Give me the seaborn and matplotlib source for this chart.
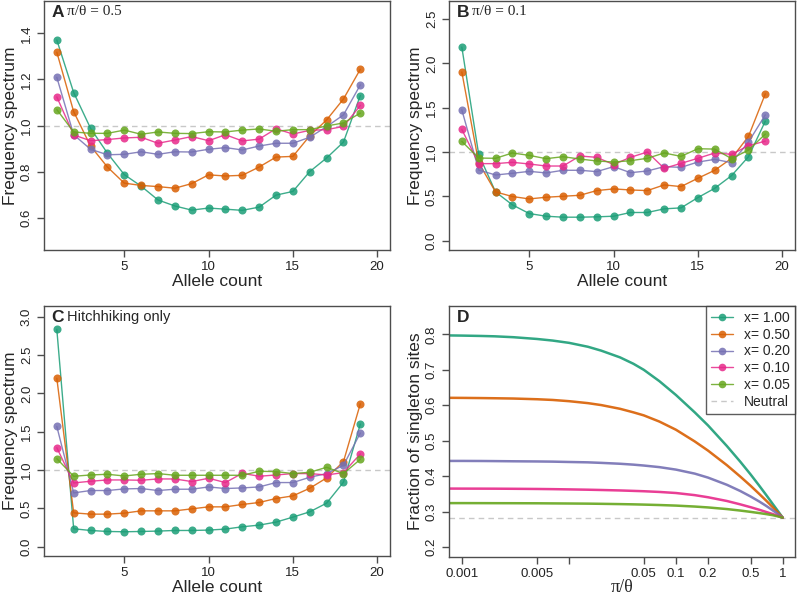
import numpy as np
import pandas as pd
import seaborn as sns
import matplotlib.pyplot as plt
from matplotlib.lines import Line2D

counts = list(range(1, 20))
series = ["x= 1.00", "x= 0.50", "x= 0.20", "x= 0.10", "x= 0.05"]
colors = ["#1B9E77", "#D95F02", "#7570B3", "#E7298A", "#66A61E"]

# panel A, pi/theta = 0.5
a_100 = [1.371, 1.143, 0.988, 0.88, 0.787, 0.737, 0.677, 0.651, 0.633, 0.642, 0.637, 0.632, 0.646, 0.698, 0.714, 0.80, 0.859, 0.928, 1.13]
a_050 = [1.318, 1.06, 0.911, 0.82, 0.75, 0.74, 0.735, 0.728, 0.748, 0.786, 0.781, 0.784, 0.82, 0.863, 0.866, 0.955, 1.024, 1.115, 1.244]
a_020 = [1.209, 0.96, 0.897, 0.873, 0.875, 0.886, 0.875, 0.886, 0.885, 0.897, 0.904, 0.894, 0.911, 0.923, 0.923, 0.949, 0.995, 1.046, 1.176]
a_010 = [1.124, 0.959, 0.934, 0.939, 0.946, 0.949, 0.923, 0.937, 0.952, 0.934, 0.96, 0.933, 0.941, 0.986, 0.963, 0.979, 0.982, 0.996, 1.087]
a_005 = [1.069, 0.972, 0.966, 0.966, 0.98, 0.962, 0.972, 0.966, 0.965, 0.973, 0.972, 0.98, 0.985, 0.975, 0.982, 0.982, 0.998, 1.011, 1.054]

# panel B, pi/theta = 0.1
b_100 = [2.185, 0.975, 0.551, 0.405, 0.307, 0.277, 0.266, 0.266, 0.27, 0.277, 0.319, 0.319, 0.36, 0.371, 0.487, 0.592, 0.735, 0.948, 1.349]
b_050 = [1.904, 0.88, 0.551, 0.499, 0.472, 0.491, 0.502, 0.513, 0.566, 0.585, 0.573, 0.566, 0.63, 0.611, 0.705, 0.795, 0.93, 1.177, 1.657]
b_020 = [1.477, 0.798, 0.742, 0.761, 0.783, 0.765, 0.795, 0.795, 0.78, 0.836, 0.768, 0.787, 0.836, 0.828, 0.888, 0.918, 0.881, 1.113, 1.42]
b_010 = [1.256, 0.87, 0.87, 0.885, 0.866, 0.843, 0.843, 0.956, 0.941, 0.86, 0.941, 1.001, 0.817, 0.873, 0.93, 0.99, 0.975, 1.072, 1.124]
b_005 = [1.121, 0.933, 0.93, 0.99, 0.963, 0.926, 0.948, 0.922, 0.9, 0.888, 0.903, 0.93, 0.99, 0.952, 1.038, 1.034, 0.926, 1.023, 1.203]

# panel C, hitchhiking only
c_100 = [2.835, 0.234, 0.212, 0.199, 0.195, 0.199, 0.204, 0.212, 0.212, 0.217, 0.23, 0.26, 0.282, 0.321, 0.386, 0.455, 0.568, 0.841, 1.6]
c_050 = [2.198, 0.442, 0.425, 0.425, 0.438, 0.468, 0.468, 0.468, 0.494, 0.52, 0.52, 0.551, 0.577, 0.629, 0.663, 0.763, 0.897, 1.11, 1.864]
c_020 = [1.569, 0.702, 0.733, 0.733, 0.754, 0.759, 0.733, 0.75, 0.75, 0.78, 0.759, 0.767, 0.78, 0.837, 0.837, 0.906, 0.954, 1.062, 1.483]
c_010 = [1.292, 0.832, 0.854, 0.871, 0.871, 0.867, 0.884, 0.884, 0.85, 0.893, 0.837, 0.958, 0.919, 0.936, 0.954, 0.954, 0.936, 0.967, 1.21]
c_005 = [1.149, 0.919, 0.936, 0.945, 0.923, 0.945, 0.954, 0.932, 0.932, 0.932, 0.932, 0.932, 0.984, 0.98, 0.954, 0.971, 1.036, 0.954, 1.14]

# panel D, singleton fraction vs pi/theta
ratio = [0.00075, 0.001, 0.0015, 0.002, 0.003, 0.005, 0.007, 0.01, 0.015, 0.02, 0.03, 0.04, 0.05,
         0.07, 0.1, 0.15, 0.2, 0.3, 0.4, 0.5, 0.6, 0.7, 0.8, 0.9, 1.0]
d_100 = [0.797, 0.7965, 0.7955, 0.7945, 0.792, 0.787, 0.7825, 0.776, 0.765, 0.754, 0.735, 0.717, 0.700,
         0.668, 0.629, 0.580, 0.543, 0.485, 0.441, 0.405, 0.374, 0.347, 0.323, 0.302, 0.283]
d_050 = [0.621, 0.6208, 0.6203, 0.6198, 0.619, 0.617, 0.615, 0.6115, 0.606, 0.6005, 0.590, 0.580, 0.5715,
         0.554, 0.531, 0.498, 0.472, 0.431, 0.399, 0.373, 0.3505, 0.331, 0.3135, 0.2975, 0.283]
d_020 = [0.443, 0.443, 0.4428, 0.4425, 0.442, 0.4415, 0.441, 0.440, 0.439, 0.4375, 0.435, 0.4325, 0.430,
         0.4255, 0.4185, 0.4072, 0.3959, 0.3757, 0.3582, 0.3427, 0.3289, 0.3162, 0.3043, 0.2933, 0.283]
d_010 = [0.365, 0.3649, 0.3648, 0.3647, 0.3644, 0.3639, 0.3634, 0.3627, 0.3618, 0.361, 0.3597, 0.3585, 0.3575,
         0.3555, 0.3525, 0.3465, 0.3405, 0.330, 0.3205, 0.3125, 0.3055, 0.299, 0.2935, 0.288, 0.283]
d_005 = [0.324, 0.324, 0.3239, 0.3238, 0.3237, 0.3235, 0.3232, 0.3229, 0.3225, 0.322, 0.3212, 0.3205, 0.3198,
         0.3186, 0.317, 0.3143, 0.3118, 0.3072, 0.303, 0.2993, 0.296, 0.293, 0.2901, 0.2865, 0.283]
neutral_single = 0.283

sns.set_style("white")
plt.rcParams["font.family"] = ["Liberation Sans", "DejaVu Sans"]
axcol = "#4d4d4d"
serif = ["Liberation Serif", "DejaVu Serif"]

W, H = 797, 599
fig = plt.figure(figsize=(W / 100, H / 100), dpi=100)


def px_axes(left, right, top, bottom):
    return fig.add_axes([left / W, 1 - bottom / H, (right - left) / W, (bottom - top) / H])


def long_df(xs, cols):
    parts = []
    for name, vals in zip(series, cols):
        parts.append(pd.DataFrame({"x": xs, "y": vals, "s": name}))
    return pd.concat(parts, ignore_index=True)


def style(ax):
    for sp in ax.spines.values():
        sp.set_color(axcol)
        sp.set_linewidth(1.0)
    ax.tick_params(axis="both", direction="out", length=5, width=1, color=axcol,
                   labelsize=9.5, labelcolor="#222222", pad=3, bottom=True, left=True)
    ax.tick_params(axis="y", labelrotation=90)
    for t in ax.get_yticklabels():
        t.set_va("center")


def sfs_panel(ax, cols, ylim, yticks):
    df = long_df(counts, cols)
    ax.axhline(1.0, color="#c8c8c8", ls=(0, (4, 3)), lw=1, zorder=0)
    sns.lineplot(data=df, x="x", y="y", hue="s", hue_order=series, palette=colors,
                 marker="o", markersize=5.8, markeredgewidth=0, lw=1, alpha=0.85,
                 estimator=None, sort=False, legend=False, ax=ax)
    ax.set_xlim(0.24, 20.76)
    ax.set_ylim(*ylim)
    ax.set_xticks([5, 10, 15, 20])
    ax.set_yticks(yticks)
    ax.yaxis.set_major_formatter(plt.FormatStrFormatter("%.1f"))
    ax.set_xlabel("Allele count", fontsize=12.5, labelpad=1)
    ax.set_ylabel("Frequency spectrum", fontsize=12.5, labelpad=2)
    style(ax)


def tag(ax, letter, text, fam=None, size=10.5):
    ax.text(0.022, 0.985, letter, transform=ax.transAxes, fontsize=12.5, fontweight="bold", va="top")
    ax.text(0.066, 0.982, text, transform=ax.transAxes, fontsize=size, va="top",
            family=fam if fam else plt.rcParams["font.family"])


axA = px_axes(44, 390, 1, 250)
sfs_panel(axA, [a_100, a_050, a_020, a_010, a_005], (0.46, 1.54), [0.6, 0.8, 1.0, 1.2, 1.4])
tag(axA, "A", "π/θ = 0.5", serif, 11)

axB = px_axes(449, 795, 1, 250)
sfs_panel(axB, [b_100, b_050, b_020, b_010, b_005], (-0.104, 2.704), [0.0, 0.5, 1.0, 1.5, 2.0, 2.5])
tag(axB, "B", "π/θ = 0.1", serif, 11)

axC = px_axes(44, 390, 306, 556)
sfs_panel(axC, [c_100, c_050, c_020, c_010, c_005], (-0.121, 3.14), [0.0, 0.5, 1.0, 1.5, 2.0, 2.5, 3.0])
tag(axC, "C", "Hitchhiking only")

# panel D
axD = px_axes(449, 795, 306, 557)
dfD = long_df(ratio, [d_100, d_050, d_020, d_010, d_005])
axD.axhline(neutral_single, color="#c8c8c8", ls=(0, (4, 3)), lw=1, zorder=0)
sns.lineplot(data=dfD, x="x", y="y", hue="s", hue_order=series, palette=colors,
             lw=1.8, alpha=0.9, estimator=None, sort=False, legend=False, ax=axD)
axD.set_xscale("log")
axD.set_xlim(10 ** -3.125, 10 ** 0.115)
axD.set_ylim(0.172, 0.88)
axD.set_xticks([0.001, 0.005, 0.01, 0.05, 0.1, 0.2, 0.5, 1])
axD.set_xticklabels(["0.001", "0.005", "", "0.05", "0.1", "0.2", "0.5", "1"])
axD.minorticks_off()
axD.set_yticks([0.2, 0.3, 0.4, 0.5, 0.6, 0.7, 0.8])
axD.yaxis.set_major_formatter(plt.FormatStrFormatter("%.1f"))
axD.set_xlabel("π/θ", fontsize=13, labelpad=-1, family=serif)
axD.set_ylabel("Fraction of singleton sites", fontsize=12.5, labelpad=2)
style(axD)
axD.text(0.022, 0.985, "D", transform=axD.transAxes, fontsize=12.5, fontweight="bold", va="top")

handles = [Line2D([], [], color=c, marker="o", markersize=5.5, markeredgewidth=0, lw=1, alpha=0.85)
           for c in colors]
handles.append(Line2D([], [], color="#c8c8c8", ls=(0, (4, 3)), lw=1))
leg = axD.legend(handles, series + ["Neutral"], loc="upper right", bbox_to_anchor=(1.0, 1.0),
                 borderaxespad=0.0, fancybox=False, frameon=True, fontsize=10,
                 handlelength=1.6, handletextpad=0.8, labelspacing=0.2, borderpad=0.35)
leg.get_frame().set_edgecolor("#333333")
leg.get_frame().set_linewidth(1.0)

fig.savefig("out.png", dpi=100)
